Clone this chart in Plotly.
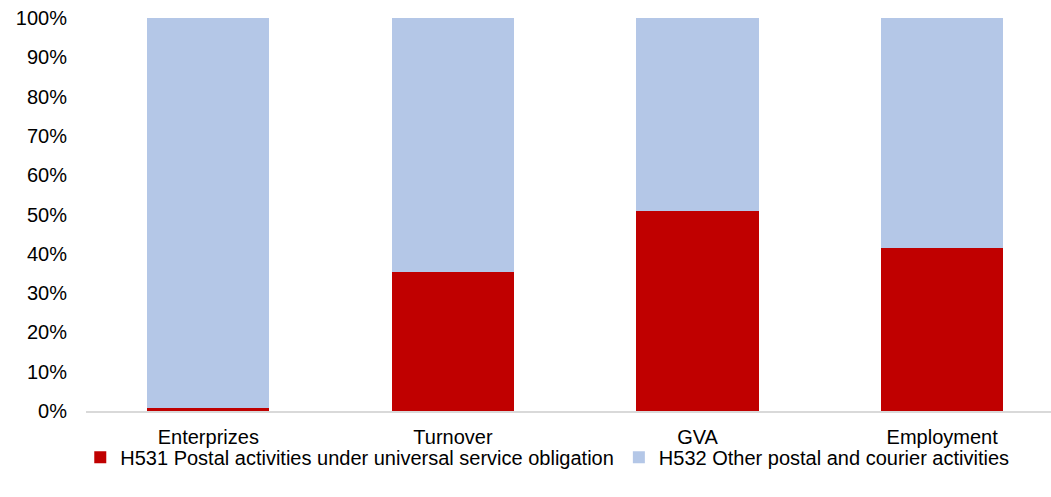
import plotly.graph_objects as go

categories = ["Enterprizes", "Turnover", "GVA", "Employment"]
h531 = [0.8, 35.3, 50.9, 41.4]
h532 = [100 - v for v in h531]
series_names = ["H531 Postal activities under universal service obligation",
                "H532 Other postal and courier activities"]
y_ticks = [0, 10, 20, 30, 40, 50, 60, 70, 80, 90, 100]

font = dict(family="Liberation Sans, Arial, sans-serif", size=20, color="#000000")

fig = go.Figure()
fig.add_trace(go.Bar(x=categories, y=[v / 100 for v in h531], name=series_names[0],
                     marker=dict(color="#C00000", line=dict(width=0)), width=0.5))
fig.add_trace(go.Bar(x=categories, y=[v / 100 for v in h532], name=series_names[1],
                     marker=dict(color="#B4C7E7", line=dict(width=0)), width=0.5))

fig.update_layout(
    barmode="stack",
    width=1051, height=497,
    margin=dict(l=86, r=0, t=18, b=86),
    paper_bgcolor="white", plot_bgcolor="white",
    font=font,
    showlegend=True,
    legend=dict(orientation="h", x=0.478, xanchor="center", y=-0.068, yanchor="top",
                font=font, itemwidth=30, traceorder="normal", tracegroupgap=0,
                bgcolor="rgba(0,0,0,0)"),
    xaxis=dict(range=[-0.5, 3.445], showgrid=False, showline=True, linecolor="#D9D9D9",
               linewidth=2, ticks="", ticklabelstandoff=7, tickfont=font),
    yaxis=dict(range=[0, 1], tickvals=[t / 100 for t in y_ticks], tickformat=".0%",
               showgrid=False, showline=False, zeroline=False, ticks="",
               ticklabelstandoff=18, tickfont=font),
)

fig.write_html("out.html", config={"displayModeBar": False},
               post_script="document.body.style.margin='0';document.body.style.overflow='hidden';")
